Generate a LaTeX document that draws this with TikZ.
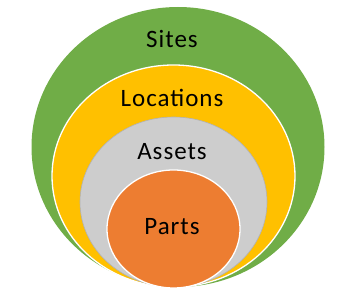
\documentclass[tikz,border=0pt]{standalone}
\usepackage{fontspec}
\setmainfont{Carlito}
\newfontfamily\ringfont[LetterSpace=4]{Carlito}
\usepackage{tikz}
\usetikzlibrary{positioning}
\definecolor{sitegreen}{HTML}{70AD47}
\definecolor{locyellow}{HTML}{FFC000}
\definecolor{assetgray}{HTML}{CDCDCD}
\definecolor{partorange}{HTML}{ED7D31}

\begin{document}
\begin{tikzpicture}[x=1pt, y=-1pt,
    ring/.style={draw=white, line width=1.3pt},
    lbl/.style={font=\ringfont\fontsize{25}{30}\selectfont, text=black, inner sep=0pt}]
    \useasboundingbox (0,0) rectangle (349,299);
    % nested areas
    \fill[sitegreen] (178,147) ellipse [x radius=146.5, y radius=140];
    \filldraw[locyellow, ring] (173.5,176) ellipse [x radius=121.5, y radius=111];
    \filldraw[fill=assetgray, draw=gray!60, line width=0.6pt] (173.5,202) ellipse [x radius=93.5, y radius=85];
    \filldraw[partorange, ring] (173.5,229) ellipse [x radius=66.5, y radius=59];
    % labels
    \node[lbl] (sites) at (172,39) {Sites};
    \node[lbl] (locs) at (172,98) {Locations};
    \node[lbl] (assets) at (172,152) {Assets};
    \node[lbl] (parts) at (172,227) {Parts};
\end{tikzpicture}
\end{document}
